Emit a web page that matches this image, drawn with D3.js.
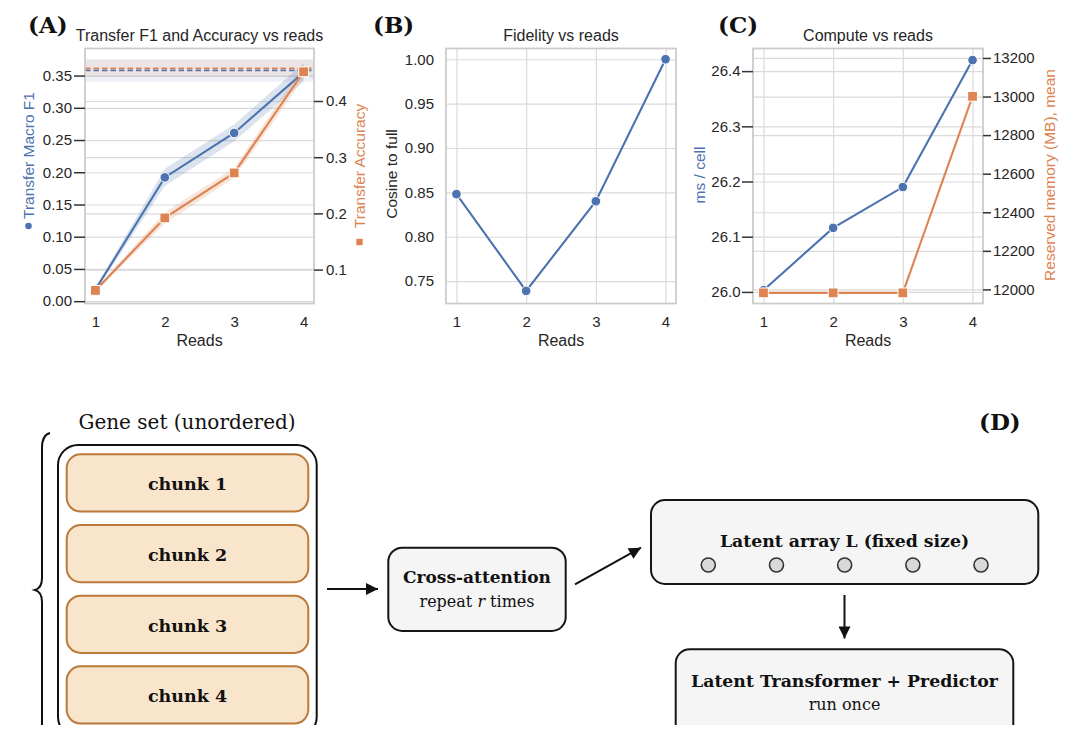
<!DOCTYPE html>
<html>
<head>
<meta charset="utf-8">
<script src="https://cdn.jsdelivr.net/npm/d3@7"></script>
<style>
  body { margin: 0; background: #fff; }
  svg { display: block; }
</style>
</head>
<body>
<svg width="1069" height="736"></svg>
<script>
const reads = [1, 2, 3, 4]

// (A) transfer metrics: mean and half-width of the shaded band
const f1Mean = [0.018, 0.192, 0.261, 0.355]
const f1Err = [0.003, 0.0135, 0.013, 0.014]
const accMean = [0.063, 0.192, 0.272, 0.452]
const accErr = [0.003, 0.010, 0.009, 0.012]
const f1Full = 0.358, f1FullErr = 0.0175
const accFull = 0.458, accFullErr = 0.015

// (B) fidelity
const cosine = [0.848, 0.739, 0.840, 1.000]

// (C) compute
const msPerCell = [26.003, 26.116, 26.190, 26.420]
const memMB = [11982, 11982, 11982, 13001]

// tick values
const f1Ticks = [0, 0.05, 0.10, 0.15, 0.20, 0.25, 0.30, 0.35]
const accTicks = [0.1, 0.2, 0.3, 0.4]
const cosTicks = [0.75, 0.80, 0.85, 0.90, 0.95, 1.00]
const msTicks = [26.0, 26.1, 26.2, 26.3, 26.4]
const memTicks = [12000, 12200, 12400, 12600, 12800, 13000, 13200]

// (D) diagram
const chunks = ["chunk 1", "chunk 2", "chunk 3", "chunk 4"]
const latentSlots = [1, 2, 3, 4, 5]

const svg = d3.select("svg")
const blue = "#4c72b0", orange = "#dd8452", ink = "#262626"
const gridCol = "#dadada", frameCol = "#cccccc"
const sans = "'Liberation Sans', Arial, sans-serif"
const serif = "'DejaVu Serif', serif"
const plotTop = 48.5, plotBottom = 303.5

function gridY(g, y, ticks, x0, x1) {
  g.append("g").attr("transform", "translate(" + x0 + ",0)")
    .call(d3.axisLeft(y).tickValues(ticks).tickSize(-(x1 - x0)).tickFormat(""))
    .call(a => a.select(".domain").remove())
    .selectAll("line").attr("stroke", gridCol).attr("stroke-width", 1.2)
}

function gridX(g, x, ticks) {
  g.append("g").attr("transform", "translate(0," + plotBottom + ")")
    .call(d3.axisBottom(x).tickValues(ticks).tickSize(-(plotBottom - plotTop)).tickFormat(""))
    .call(a => a.select(".domain").remove())
    .selectAll("line").attr("stroke", gridCol).attr("stroke-width", 1.2)
}

function axisY(g, y, ticks, fmt, xPos, orient, size, pad) {
  const ax = (orient === "left" ? d3.axisLeft(y) : d3.axisRight(y))
    .tickValues(ticks).tickFormat(fmt).tickSize(size).tickPadding(pad)
  const a = g.append("g").attr("transform", "translate(" + xPos + ",0)").call(ax)
  a.select(".domain").remove()
  a.attr("font-family", sans).attr("font-size", 15)
  a.selectAll("line").attr("stroke", "#333").attr("stroke-width", 1.5)
  a.selectAll("text").attr("fill", ink)
}

function axisX(g, x) {
  const a = g.append("g").attr("transform", "translate(0," + plotBottom + ")")
    .call(d3.axisBottom(x).tickValues(reads).tickFormat(d3.format("d")).tickSize(0).tickPadding(13))
  a.select(".domain").remove()
  a.attr("font-family", sans).attr("font-size", 15)
  a.selectAll("text").attr("fill", ink)
}

function frame(g, x) {
  const [l, r] = x.range()
  g.append("rect").attr("x", l).attr("y", plotTop).attr("width", r - l).attr("height", plotBottom - plotTop)
    .attr("fill", "none").attr("stroke", frameCol).attr("stroke-width", 1.8)
}

function titles(g, x, title) {
  const [l, r] = x.range()
  g.append("text").attr("x", (l + r) / 2).attr("y", 40.5).attr("text-anchor", "middle")
    .attr("font-family", sans).attr("font-size", 16).attr("fill", ink).text(title)
  g.append("text").attr("x", (l + r) / 2).attr("y", 346).attr("text-anchor", "middle")
    .attr("font-family", sans).attr("font-size", 16).attr("fill", ink).text("Reads")
}

function yLabel(g, text, cx, cy, color) {
  g.append("text").attr("transform", "translate(" + cx + "," + cy + ") rotate(-90)")
    .attr("text-anchor", "middle").attr("dy", "0.35em")
    .attr("font-family", sans).attr("font-size", 15.5).attr("fill", color).text(text)
}

function panelLetter(text, x) {
  svg.append("text").attr("x", x).attr("y", 32.5).attr("font-family", serif)
    .attr("font-weight", "bold").attr("font-size", 23).attr("fill", "#111").text(text)
}

function drawLine(g, x, y, vals, color) {
  g.append("path").datum(vals)
    .attr("d", d3.line().x((d, i) => x(reads[i])).y(d => y(d)))
    .attr("fill", "none").attr("stroke", color).attr("stroke-width", 2.1)
}

function dots(g, x, y, vals, color) {
  g.append("g").selectAll("circle").data(vals).join("circle")
    .attr("cx", (d, i) => x(reads[i])).attr("cy", d => y(d)).attr("r", 4.8)
    .attr("fill", color).attr("stroke", "#fff").attr("stroke-width", 1)
}

function squares(g, x, y, vals, color) {
  const s = 9.8
  g.append("g").selectAll("rect").data(vals).join("rect")
    .attr("x", (d, i) => x(reads[i]) - s / 2).attr("y", d => y(d) - s / 2)
    .attr("width", s).attr("height", s)
    .attr("fill", color).attr("stroke", "#fff").attr("stroke-width", 1)
}

function band(g, x, y, means, errs, color) {
  const rows = means.map((m, i) => ({r: reads[i], m: m, e: errs[i]}))
  g.append("path").datum(rows)
    .attr("d", d3.area().x(d => x(d.r)).y0(d => y(d.m - d.e)).y1(d => y(d.m + d.e)))
    .attr("fill", color).attr("opacity", 0.2)
}

function refLine(g, x, y, v, e, color) {
  const [l, r] = x.range()
  g.append("rect").attr("x", l).attr("width", r - l)
    .attr("y", y(v + e)).attr("height", y(v - e) - y(v + e))
    .attr("fill", color).attr("opacity", 0.1)
  g.append("line").attr("x1", l).attr("x2", r).attr("y1", y(v)).attr("y2", y(v))
    .attr("stroke", color).attr("stroke-width", 1.6).attr("stroke-dasharray", "5.5,3")
}

// ---------- (A)
const gA = svg.append("g")
const xA = d3.scaleLinear().domain([0.85, 4.15]).range([85, 314])
const yA = d3.scaleLinear().domain([-0.0036, 0.392]).range([plotBottom, plotTop])
const yA2 = d3.scaleLinear().domain([0.0397, 0.4934]).range([plotBottom, plotTop])
gridY(gA, yA, f1Ticks, 85, 314)
gridY(gA, yA2, accTicks, 85, 314)
refLine(gA, xA, yA, f1Full, f1FullErr, blue)
band(gA, xA, yA, f1Mean, f1Err, blue)
drawLine(gA, xA, yA, f1Mean, blue)
dots(gA, xA, yA, f1Mean, blue)
refLine(gA, xA, yA2, accFull, accFullErr, orange)
band(gA, xA, yA2, accMean, accErr, orange)
drawLine(gA, xA, yA2, accMean, orange)
squares(gA, xA, yA2, accMean, orange)
frame(gA, xA)
axisY(gA, yA, f1Ticks, d3.format(".2f"), 85, "left", 11, 2)
axisY(gA, yA2, accTicks, d3.format(".1f"), 314, "right", 9, 3)
axisX(gA, xA)
titles(gA, xA, "Transfer F1 and Accuracy vs reads")
yLabel(gA, "Transfer Macro F1", 28.5, 155.5, blue)
gA.append("circle").attr("cx", 28.5).attr("cy", 226).attr("r", 3.3).attr("fill", blue)
yLabel(gA, "Transfer Accuracy", 359.5, 166, orange)
gA.append("rect").attr("x", 356.3).attr("y", 238.8).attr("width", 6.4).attr("height", 6.4).attr("fill", orange)
panelLetter("(A)", 28)

// ---------- (B)
const gB = svg.append("g")
const xB = d3.scaleLinear().domain([0.85, 4.15]).range([446, 676])
const yB = d3.scaleLinear().domain([0.7248, 1.0121]).range([plotBottom, plotTop])
gridY(gB, yB, cosTicks, 446, 676)
gridX(gB, xB, reads)
drawLine(gB, xB, yB, cosine, blue)
dots(gB, xB, yB, cosine, blue)
frame(gB, xB)
axisY(gB, yB, cosTicks, d3.format(".2f"), 446, "left", 0, 12)
axisX(gB, xB)
titles(gB, xB, "Fidelity vs reads")
yLabel(gB, "Cosine to full", 391.5, 174, ink)
panelLetter("(B)", 373)

// ---------- (C)
const gC = svg.append("g")
const xC = d3.scaleLinear().domain([0.85, 4.15]).range([753, 983])
const yC = d3.scaleLinear().domain([25.979, 26.441]).range([plotBottom, plotTop])
const yC2 = d3.scaleLinear().domain([11927, 13249]).range([plotBottom, plotTop])
gridY(gC, yC, msTicks, 753, 983)
gridY(gC, yC2, memTicks, 753, 983)
gridX(gC, xC, reads)
drawLine(gC, xC, yC, msPerCell, blue)
dots(gC, xC, yC, msPerCell, blue)
drawLine(gC, xC, yC2, memMB, orange)
squares(gC, xC, yC2, memMB, orange)
frame(gC, xC)
axisY(gC, yC, msTicks, d3.format(".1f"), 753, "left", 11, 1.5)
axisY(gC, yC2, memTicks, d3.format("d"), 983, "right", 8, 2)
axisX(gC, xC)
titles(gC, xC, "Compute vs reads")
yLabel(gC, "ms / cell", 700, 175, blue)
yLabel(gC, "Reserved memory (MB), mean", 1050, 175, orange)
panelLetter("(C)", 718)

// ---------- (D) diagram
const defs = svg.append("defs")
defs.append("clipPath").attr("id", "clipD")
  .append("rect").attr("x", 0).attr("y", 380).attr("width", 1069).attr("height", 345)
defs.append("marker").attr("id", "arrow").attr("viewBox", "0 0 10 10")
  .attr("refX", 10).attr("refY", 5).attr("markerUnits", "userSpaceOnUse")
  .attr("markerWidth", 16).attr("markerHeight", 12).attr("orient", "auto")
  .append("path").attr("d", "M0,0 L10,5 L0,10 Z").attr("fill", "#111")

const gD = svg.append("g").attr("clip-path", "url(#clipD)")
const boxStroke = "#151515"

function box(x, y, w, h, fill) {
  gD.append("rect").attr("x", x).attr("y", y).attr("width", w).attr("height", h)
    .attr("rx", 14).attr("fill", fill).attr("stroke", boxStroke).attr("stroke-width", 2)
}

function label(text, x, y, size, bold) {
  return gD.append("text").attr("x", x).attr("y", y).attr("text-anchor", "middle")
    .attr("font-family", serif).attr("font-size", size)
    .attr("font-weight", bold ? "bold" : "normal").attr("fill", "#111").text(text)
}

function arrow(x1, y1, x2, y2) {
  gD.append("line").attr("x1", x1).attr("y1", y1).attr("x2", x2).attr("y2", y2)
    .attr("stroke", "#111").attr("stroke-width", 2).attr("marker-end", "url(#arrow)")
}

// gene set with brace
label("Gene set (unordered)", 187, 428.5, 20, false)
gD.append("path")
  .attr("d", "M50,433 Q42,435 42,448 L42,578 Q42,588 35,590 Q42,592 42,602 L42,745")
  .attr("fill", "none").attr("stroke", "#111").attr("stroke-width", 2)
gD.append("rect").attr("x", 58).attr("y", 445).attr("width", 258.7).attr("height", 292)
  .attr("rx", 20).attr("fill", "#fff").attr("stroke", "#111").attr("stroke-width", 2)

const yChunk = d3.scaleBand().domain(chunks).range([454.3, 723.6]).paddingInner(0.19).paddingOuter(0)
gD.append("g").selectAll("rect").data(chunks).join("rect")
  .attr("x", 66.7).attr("width", 241.6)
  .attr("y", d => yChunk(d)).attr("height", yChunk.bandwidth())
  .attr("rx", 14).attr("fill", "#f8e5cb").attr("stroke", "#b97a3b").attr("stroke-width", 2)
gD.append("g").selectAll("text").data(chunks).join("text")
  .attr("x", 187.5).attr("y", d => yChunk(d) + yChunk.bandwidth() / 2 + 7.5)
  .attr("text-anchor", "middle").attr("font-family", serif).attr("font-size", 17.5)
  .attr("font-weight", "bold").attr("fill", "#111").text(d => d)

// cross-attention
arrow(327, 589, 378, 589)
box(388.3, 547.7, 177.4, 83.3, "#f5f5f5")
label("Cross-attention", 477, 582.5, 17, true)
const rep = label("repeat ", 477, 606.5, 16, false)
rep.append("tspan").attr("font-style", "italic").text("r")
rep.append("tspan").text(" times")

// latent array
arrow(575, 584.3, 641, 547.7)
box(651, 500, 387.3, 84, "#f5f5f5")
label("Latent array L (fixed size)", 844.5, 547.3, 17.3, true)
const xSlot = d3.scalePoint().domain(latentSlots).range([708.3, 981])
gD.append("g").selectAll("circle").data(latentSlots).join("circle")
  .attr("cx", d => xSlot(d)).attr("cy", 565).attr("r", 7)
  .attr("fill", "#d9d9d9").attr("stroke", "#333").attr("stroke-width", 1.6)

// latent transformer
arrow(844.5, 595, 844.5, 638.5)
box(675.7, 649.3, 337.6, 100, "#f5f5f5")
label("Latent Transformer + Predictor", 844.5, 687.3, 17.3, true)
label("run once", 844.5, 710, 16, false)

svg.append("text").attr("x", 979).attr("y", 430).attr("font-family", serif)
  .attr("font-weight", "bold").attr("font-size", 23).attr("fill", "#111").text("(D)")
</script>
</body>
</html>
